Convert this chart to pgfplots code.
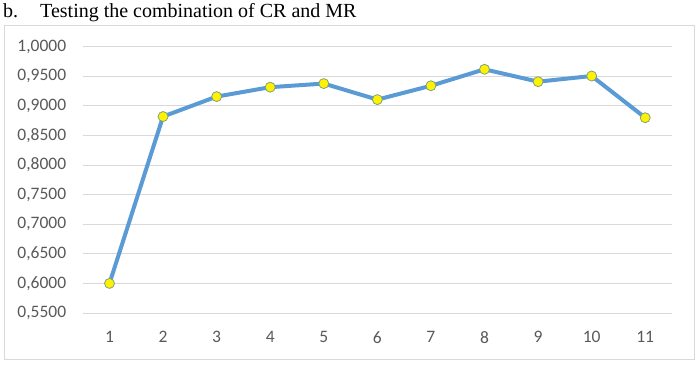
\documentclass[border=0pt]{standalone}
\usepackage{pgfplots}
\pgfplotsset{compat=1.18}
\usepackage{fontspec}
\setmainfont{Liberation Serif}
\newfontfamily\calibri{Carlito}
\definecolor{lineblue}{HTML}{5B9BD5}
\definecolor{gridgray}{HTML}{D9D9D9}
\definecolor{ticktext}{HTML}{595959}
\definecolor{markedge}{HTML}{7FA07F}
\begin{document}
\begin{tikzpicture}
\path[use as bounding box] (0,0) rectangle (697bp,-366bp);
\node[anchor=base west, inner sep=0pt, font=\fontsize{20bp}{22bp}\selectfont] at (3bp,-17.5bp) {b.\hspace{22bp}Testing the combination of CR and MR};
\draw[gridgray, line width=1bp] (4.5bp,-25.5bp) rectangle (694.5bp,-359.5bp);
\begin{axis}[
  at={(82.7bp,-313bp)}, anchor=south west,
  scale only axis,
  width=589.3bp, height=266.3bp,
  xmin=0.5, xmax=11.5,
  ymin=0.55, ymax=1.0,
  xtick={1,2,3,4,5,6,7,8,9,10,11},
  ytick={0.55,0.60,0.65,0.70,0.75,0.80,0.85,0.90,0.95,1.00},
  ymajorgrids,
  grid style={gridgray, line width=1bp},
  axis line style={draw=none},
  major tick length=0pt,
  tick label style={font=\calibri\fontsize{17.5bp}{20bp}\selectfont, text=ticktext},
  /pgf/number format/assume math mode=true,
  yticklabel={\pgfmathprintnumber[fixed, fixed zerofill, precision=4, use comma]{\tick}},
  xticklabel style={yshift=-15bp},
  yticklabel style={xshift=-13bp},
  clip=false,
]
\addplot[lineblue, line width=4bp, line join=round,
  mark=*, mark size=5bp,
  mark options={fill=yellow, draw=markedge, line width=0.8bp}]
  coordinates {
  (1,0.6000) (2,0.8820) (3,0.9157) (4,0.9316) (5,0.9377) (6,0.9106)
  (7,0.9340) (8,0.9618) (9,0.9409) (10,0.9505) (11,0.8800)
  };
\end{axis}
\end{tikzpicture}
\end{document}
